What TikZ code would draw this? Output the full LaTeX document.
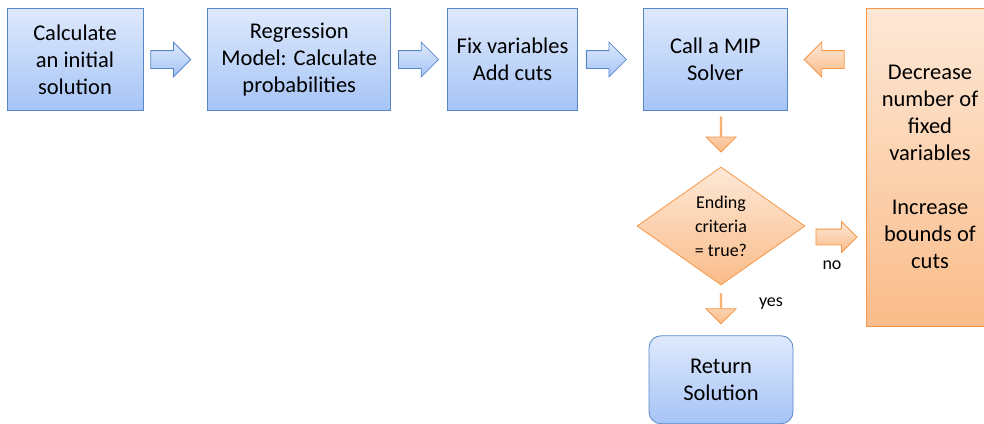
\documentclass[tikz,border=0pt]{standalone}
\usepackage{fontspec}
\setmainfont{Carlito}
\usetikzlibrary{positioning,shapes.geometric,shapes.arrows}

\definecolor{bluetop}{RGB}{222,233,252}
\definecolor{bluebot}{RGB}{166,196,246}
\definecolor{bluebd}{RGB}{88,135,200}
\definecolor{ortop}{RGB}{253,232,214}
\definecolor{orbot}{RGB}{250,188,138}
\definecolor{orbd}{RGB}{247,150,70}

\begin{document}
\begin{tikzpicture}[x=1pt, y=-1pt,
    box/.style = {draw=bluebd, thick, top color=bluetop, bottom color=bluebot,
        minimum height=102pt, align=center, inner sep=2pt,
        font=\fontsize{22.5}{27}\selectfont},
    obox/.style = {draw=orbd, thick, top color=ortop, bottom color=orbot,
        align=center, font=\fontsize{22.5}{27}\selectfont},
    barrow/.style = {single arrow, draw=bluebd, thick, top color=bluetop, bottom color=bluebot,
        minimum height=40pt, minimum width=34pt, single arrow head extend=8.5pt,
        inner xsep=0pt, inner ysep=8.5pt},
    oarrow/.style = {single arrow, draw=orbd, thick, top color=ortop, bottom color=orbot,
        minimum width=30pt, single arrow head extend=7.5pt,
        inner xsep=0pt, inner ysep=7.5pt},
    small/.style = {font=\fontsize{18}{20}\selectfont}]

    \useasboundingbox (0,0) rectangle (984,423);

    % top row
    \node[box, minimum width=136pt] (init) at (75,59.5) {Calculate\\an initial\\solution};
    \node[barrow, right=7pt of init] (a1) {};
    \node[box, minimum width=183pt, right=16pt of a1] (regr) {Regression\\Model: Calculate\\probabilities};
    \node[barrow, right=7pt of regr] (a2) {};
    \node[box, minimum width=130pt, right=8pt of a2] (fix) {Fix variables\\Add cuts};
    \node[barrow, right=8pt of fix] (a3) {};
    \node[box, minimum width=144pt, right=16pt of a3] (mip) {Call a MIP\\Solver};

    % feedback
    \node[oarrow, minimum width=34pt, single arrow head extend=8.5pt, inner ysep=8.5pt,
        minimum height=40pt, shape border rotate=180, right=16pt of mip] (a4) {};
    \node[obox, minimum width=128pt, minimum height=318pt] (upd) at (930,167)
        {Decrease\\number of\\fixed\\variables\\[27pt]Increase\\bounds of\\cuts};

    % decision
    \node[diamond, draw=orbd, thick, top color=ortop, bottom color=orbot,
        aspect=1.42, minimum width=168pt, minimum height=118pt, inner sep=0pt,
        align=center, font=\fontsize{18}{24}\selectfont] (end) at (721,226)
        {Ending\\criteria\\= true?};
    \node[oarrow, minimum height=35pt, shape border rotate=270, above=14pt of end] (a5) {};
    \node[oarrow, minimum height=41pt] (a6) at (832.5,237) {};
    \node[small] (no) at (832,265) {no};
    \node[oarrow, minimum height=30pt, shape border rotate=270, below=8pt of end] (a7) {};
    \node[small] (yes) at (771,304) {yes};
    \node[box, rounded corners=12pt, minimum width=144pt, minimum height=88pt,
        below=11pt of a7] (ret) {Return\\Solution};
\end{tikzpicture}
\end{document}
